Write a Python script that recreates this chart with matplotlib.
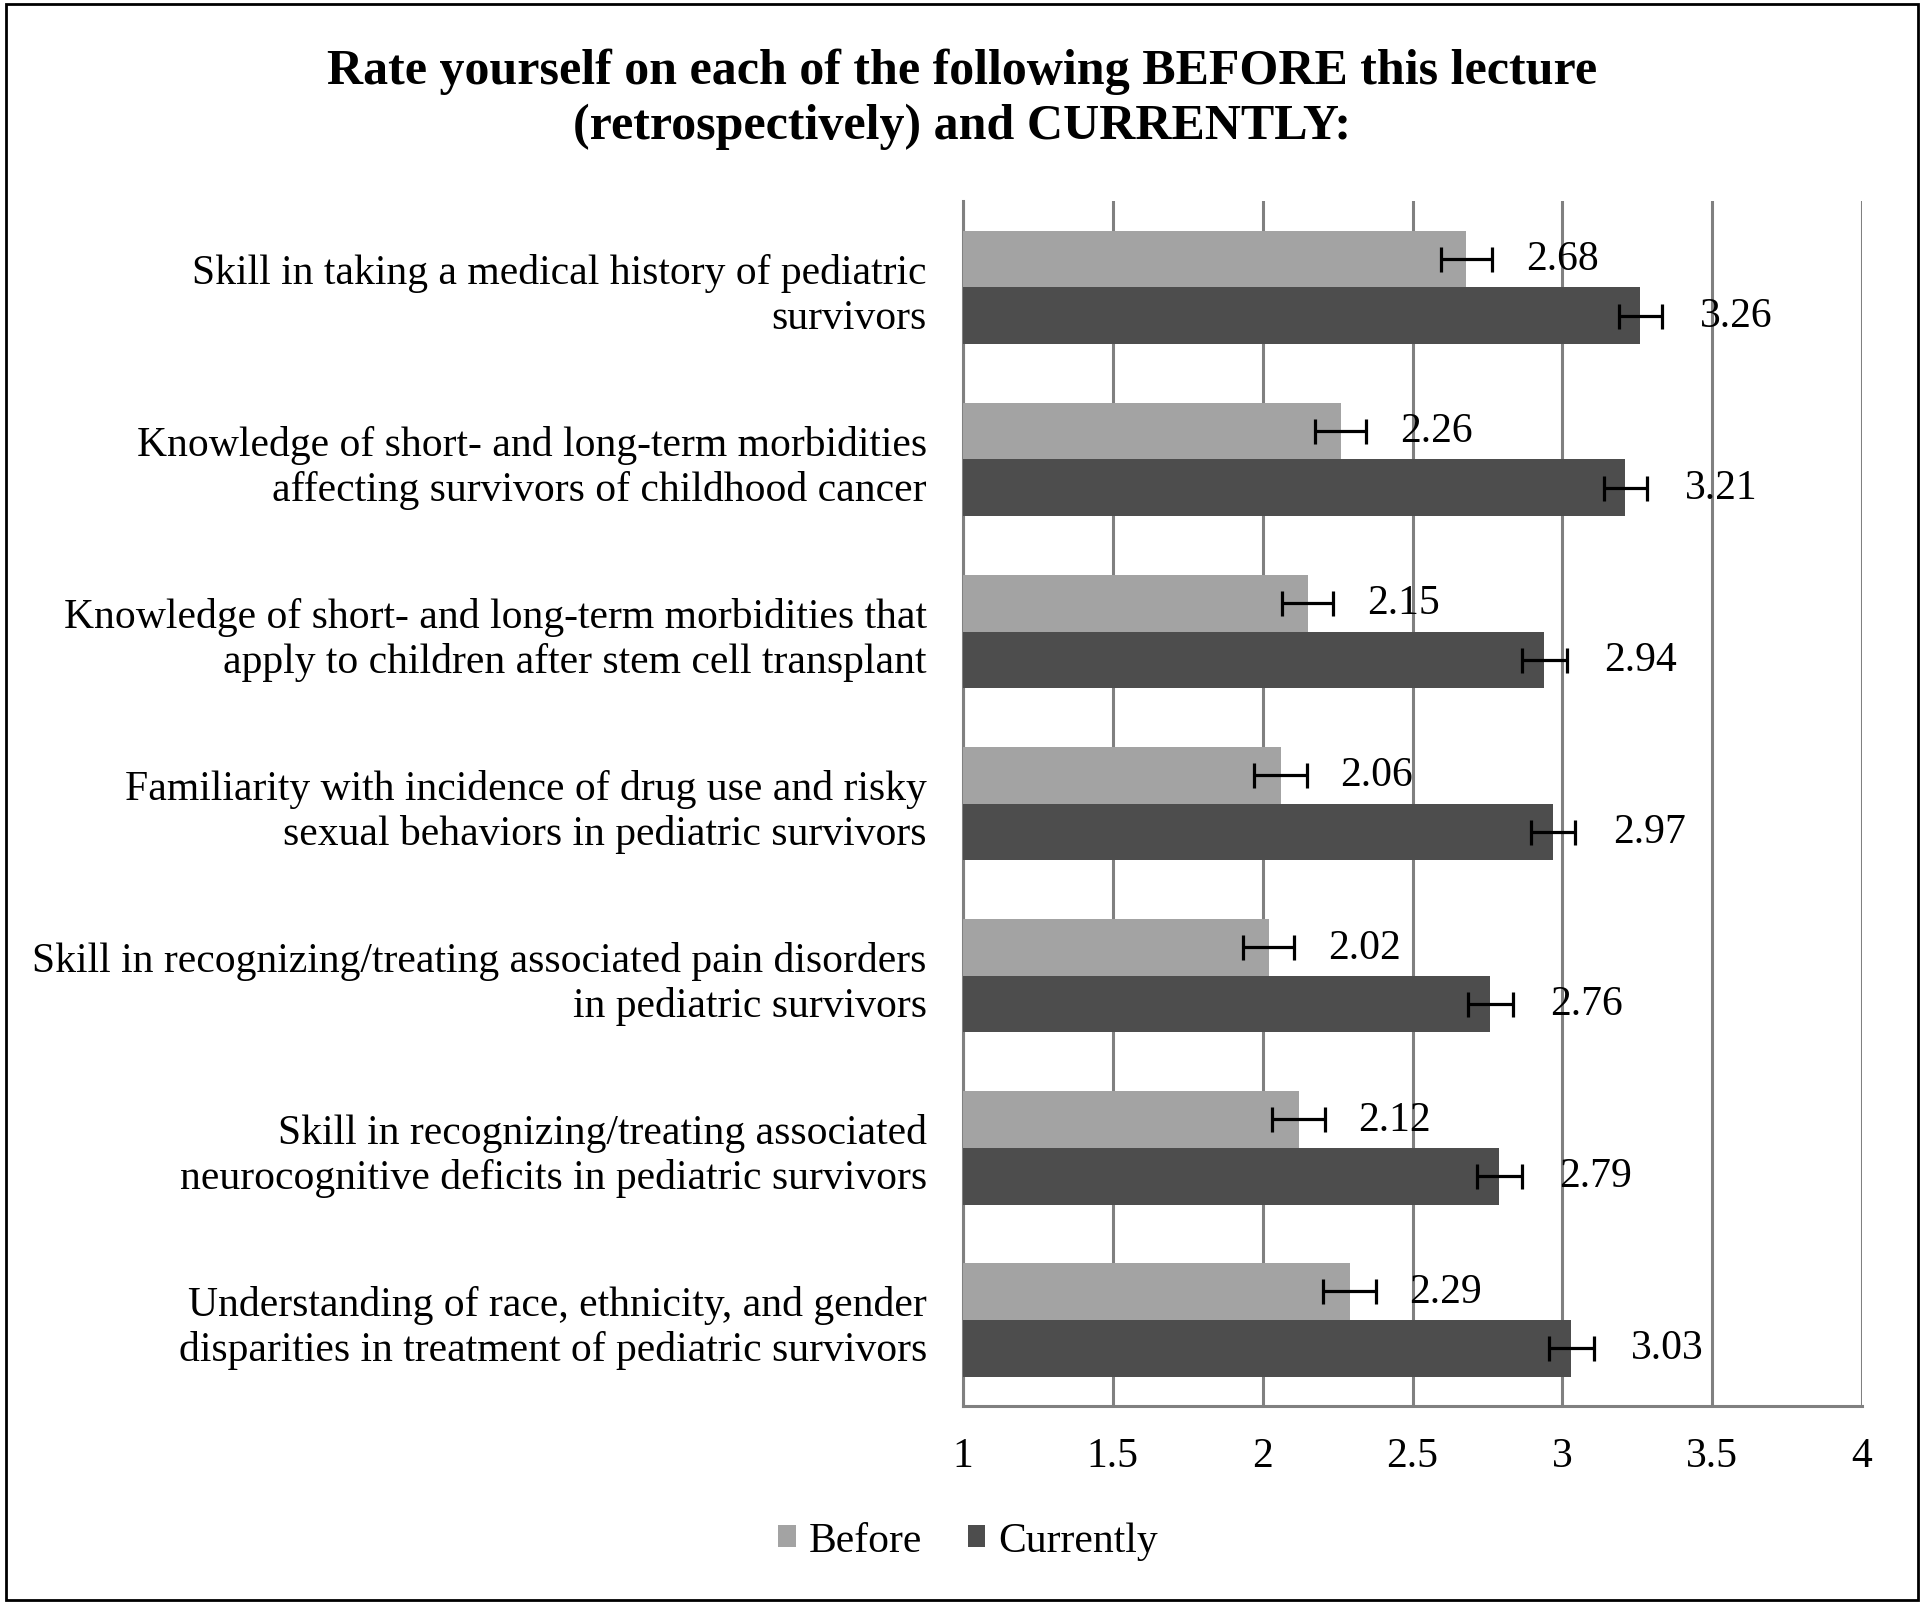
import matplotlib.pyplot as plt
import numpy as np

plt.rcParams['font.family'] = ['Liberation Serif', 'DejaVu Serif']

categories = [
    "Skill in taking a medical history of pediatric\nsurvivors",
    "Knowledge of short- and long-term morbidities\naffecting survivors of childhood cancer",
    "Knowledge of short- and long-term morbidities that\napply to children after stem cell transplant",
    "Familiarity with incidence of drug use and risky\nsexual behaviors in pediatric survivors",
    "Skill in recognizing/treating associated pain disorders\nin pediatric survivors",
    "Skill in recognizing/treating associated\nneurocognitive deficits in pediatric survivors",
    "Understanding of race, ethnicity, and gender\ndisparities in treatment of pediatric survivors",
]
before = [2.68, 2.26, 2.15, 2.06, 2.02, 2.12, 2.29]
currently = [3.26, 3.21, 2.94, 2.97, 2.76, 2.79, 3.03]
before_err = [0.084, 0.084, 0.086, 0.088, 0.086, 0.088, 0.087]
currently_err = [0.072, 0.072, 0.074, 0.073, 0.074, 0.074, 0.074]
xticks = [1, 1.5, 2, 2.5, 3, 3.5, 4]

c_before = '#a3a3a3'
c_curr = '#4d4d4d'
grid_c = '#808080'
fs = 30

fig = plt.figure(figsize=(19.24, 16.06), dpi=100)
ax = fig.add_axes([0.5005, 0.124, 0.4673, 0.750])

y = np.arange(len(categories))
h = 0.33
ekw = dict(ecolor='black', elinewidth=2.3, capsize=9, capthick=2.3)
ax.barh(y - h / 2, np.array(before) - 1, left=1, height=h, color=c_before,
        xerr=before_err, error_kw=ekw, label='Before', zorder=3)
ax.barh(y + h / 2, np.array(currently) - 1, left=1, height=h, color=c_curr,
        xerr=currently_err, error_kw=ekw, label='Currently', zorder=3)

for i in range(len(categories)):
    ax.text(before[i] + 0.2, y[i] - h / 2, f"{before[i]:.2f}", va='center',
            ha='left', fontsize=fs, zorder=4)
    ax.text(currently[i] + 0.2, y[i] + h / 2, f"{currently[i]:.2f}", va='center',
            ha='left', fontsize=fs, zorder=4)

ax.set_xlim(1, 4)
ax.set_ylim(len(categories) - 0.5, -0.5)
ax.set_xticks(xticks)
ax.set_xticklabels([f"{t:g}" for t in xticks])
ax.set_yticks(y)
ax.set_yticklabels(categories, fontsize=fs, linespacing=1.2)
ax.tick_params(axis='y', length=0, pad=26)
ax.tick_params(axis='x', length=0, pad=22, labelsize=fs)
ax.xaxis.grid(True, color=grid_c, linewidth=2.2, zorder=0)
ax.set_axisbelow(True)
for s in ['top', 'right']:
    ax.spines[s].set_visible(False)
for s in ['left', 'bottom']:
    ax.spines[s].set_color(grid_c)
    ax.spines[s].set_linewidth(2.2)

fig.text(0.5, 0.938, "Rate yourself on each of the following BEFORE this lecture\n(retrospectively) and CURRENTLY:",
         ha='center', va='center', fontsize=36, fontweight='bold', linespacing=1.25)

fig.legend(loc='center', bbox_to_anchor=(0.503, 0.04), ncol=2, frameon=False,
           fontsize=fs, handlelength=0.43, handleheight=0.43, handletextpad=0.3,
           columnspacing=1.1)

# outer frame
fig.patches.append(plt.Rectangle((0.003, 0.003), 0.994, 0.994, transform=fig.transFigure,
                                 fill=False, edgecolor='black', linewidth=2))

fig.savefig('out.png', dpi=100)
